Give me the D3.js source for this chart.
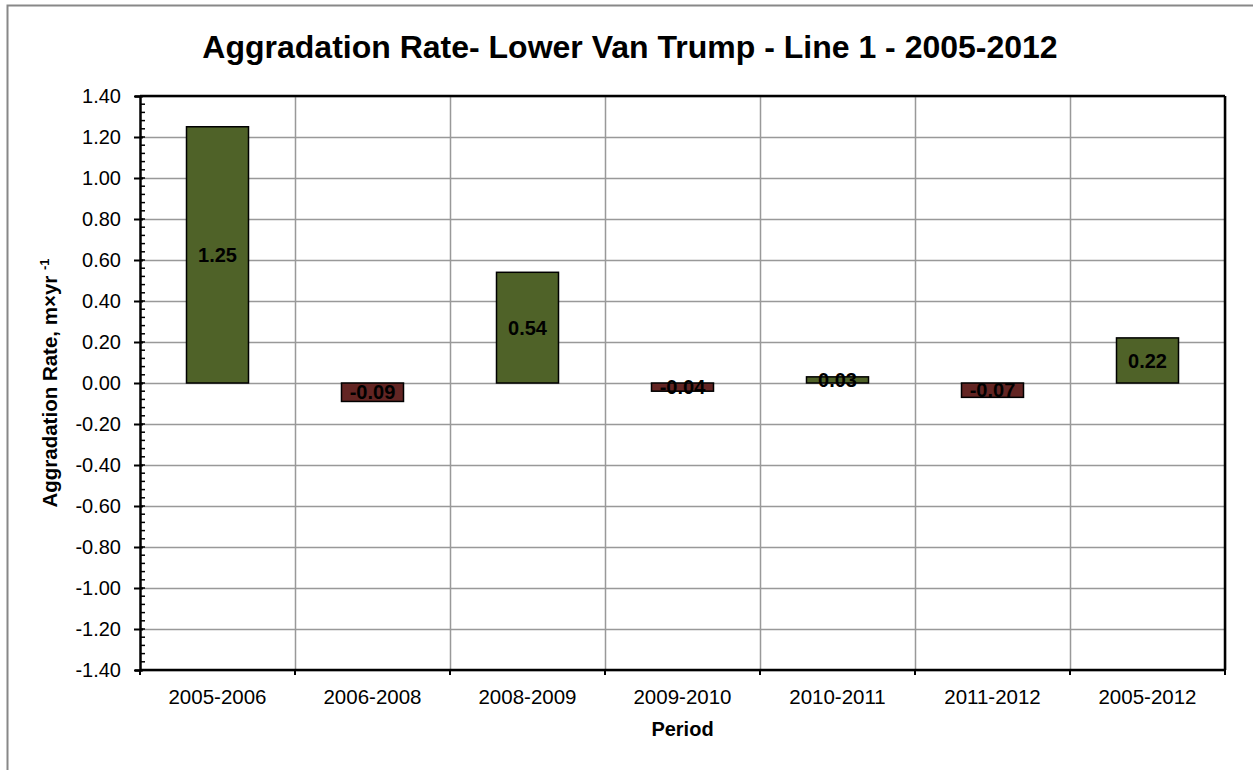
<!DOCTYPE html>
<html>
<head>
<meta charset="utf-8">
<script src="https://cdn.jsdelivr.net/npm/d3@7"></script>
<style>
  body { margin: 0; background: #fff; overflow: hidden; }
  svg { font-family: Arial, "Liberation Sans", sans-serif; }
</style>
</head>
<body>
<div id="chart"></div>
<script>
const periods = ["2005-2006", "2006-2008", "2008-2009", "2009-2010", "2010-2011", "2011-2012", "2005-2012"];
const rates = [1.25, -0.09, 0.54, -0.04, 0.03, -0.07, 0.22];
const yTicks = [1.4, 1.2, 1.0, 0.8, 0.6, 0.4, 0.2, 0, -0.2, -0.4, -0.6, -0.8, -1.0, -1.2, -1.4];

const width = 1253, height = 770;
const margin = {top: 96, right: 28, bottom: 100, left: 140};
const fmt = d => d.toFixed(2);   // plain hyphen for negatives, like the original

const svg = d3.select("#chart").append("svg")
    .attr("width", width)
    .attr("height", height);

// chart frame (right and bottom edges run off the page)
svg.append("rect")
    .attr("x", 7.5).attr("y", 5.5)
    .attr("width", 1260).attr("height", 780)
    .attr("fill", "none")
    .attr("stroke", "#888")
    .attr("stroke-width", 2);

const x = d3.scaleBand()
    .domain(periods)
    .range([margin.left, width - margin.right])
    .paddingInner(0.6)
    .paddingOuter(0.3);

const xEdges = d3.scaleLinear()
    .domain([0, periods.length])
    .range([margin.left, width - margin.right]);

const y = d3.scaleLinear()
    .domain([-1.4, 1.4])
    .range([height - margin.bottom, margin.top]);

// grid
svg.append("g")
    .selectAll("line")
    .data(yTicks)
    .join("line")
    .attr("x1", margin.left).attr("x2", width - margin.right)
    .attr("y1", d => Math.round(y(d)) + 0.5).attr("y2", d => Math.round(y(d)) + 0.5)
    .attr("stroke", "#999")
    .attr("stroke-width", 1.5);

svg.append("g")
    .selectAll("line")
    .data(d3.range(1, periods.length + 1))
    .join("line")
    .attr("x1", d => Math.round(xEdges(d)) + 0.5).attr("x2", d => Math.round(xEdges(d)) + 0.5)
    .attr("y1", y(1.4)).attr("y2", y(-1.4))
    .attr("stroke", "#999")
    .attr("stroke-width", 1.5);

// bars
svg.append("g")
    .selectAll("rect")
    .data(rates)
    .join("rect")
    .attr("x", (d, i) => x(periods[i]))
    .attr("width", x.bandwidth())
    .attr("y", d => y(Math.max(0, d)))
    .attr("height", d => Math.abs(y(d) - y(0)))
    .attr("fill", d => d >= 0 ? "#4f6228" : "#632523")
    .attr("stroke", "#000")
    .attr("stroke-width", 1.5);

// value labels
svg.append("g")
    .selectAll("text")
    .data(rates)
    .join("text")
    .attr("x", (d, i) => x(periods[i]) + x.bandwidth() / 2)
    .attr("y", d => (y(d) + y(0)) / 2)
    .attr("dy", "0.36em")
    .attr("text-anchor", "middle")
    .attr("font-size", 20)
    .attr("font-weight", "bold")
    .attr("fill", "#000")
    .text(fmt);

// y axis
const yAxis = svg.append("g")
    .attr("transform", `translate(${margin.left},0)`);

yAxis.call(d3.axisLeft(y)
        .tickValues(yTicks)
        .tickSize(5)
        .tickFormat(fmt))
    .call(g => g.select(".domain").attr("stroke-width", 2.5))
    .call(g => g.selectAll(".tick line").attr("x2", -6).attr("x1", 3).attr("stroke-width", 2))
    .call(g => g.selectAll(".tick text")
        .attr("x", -19)
        .attr("font-size", 20)
        .attr("font-family", "Arial, 'Liberation Sans', sans-serif")
        .attr("fill", "#000"));

// minor ticks
yAxis.append("g")
    .selectAll("line")
    .data(d3.range(-1.4, 1.4001, 0.04))
    .join("line")
    .attr("x1", 0).attr("x2", 5)
    .attr("y1", d => y(d)).attr("y2", d => y(d))
    .attr("stroke", "#000")
    .attr("stroke-width", 1.5);

// x axis (at bottom)
svg.append("line")
    .attr("x1", margin.left).attr("x2", width - margin.right)
    .attr("y1", y(-1.4)).attr("y2", y(-1.4))
    .attr("stroke", "#000")
    .attr("stroke-width", 2.5);

svg.append("g")
    .selectAll("line")
    .data(d3.range(0, periods.length + 1))
    .join("line")
    .attr("x1", d => xEdges(d)).attr("x2", d => xEdges(d))
    .attr("y1", y(-1.4)).attr("y2", y(-1.4) + 5)
    .attr("stroke", "#000")
    .attr("stroke-width", 2);

svg.append("g")
    .selectAll("text")
    .data(periods)
    .join("text")
    .attr("x", d => x(d) + x.bandwidth() / 2)
    .attr("y", y(-1.4) + 34)
    .attr("text-anchor", "middle")
    .attr("font-size", 20.5)
    .attr("fill", "#000")
    .text(d => d);

// top and right plot border
svg.append("line")
    .attr("x1", margin.left).attr("x2", width - margin.right)
    .attr("y1", y(1.4)).attr("y2", y(1.4))
    .attr("stroke", "#000").attr("stroke-width", 2.5);
svg.append("line")
    .attr("x1", width - margin.right).attr("x2", width - margin.right)
    .attr("y1", y(1.4)).attr("y2", y(-1.4))
    .attr("stroke", "#000").attr("stroke-width", 2.5);

// titles
svg.append("text")
    .attr("x", 630).attr("y", 58)
    .attr("text-anchor", "middle")
    .attr("font-size", 32)
    .attr("font-weight", "bold")
    .text("Aggradation Rate- Lower Van Trump - Line 1 - 2005-2012");

svg.append("text")
    .attr("x", (margin.left + width - margin.right) / 2)
    .attr("y", 736)
    .attr("text-anchor", "middle")
    .attr("font-size", 20)
    .attr("font-weight", "bold")
    .text("Period");

const yTitle = svg.append("text")
    .attr("transform", `translate(57,${y(0)}) rotate(-90)`)
    .attr("text-anchor", "middle")
    .attr("font-size", 20.5)
    .attr("font-weight", "bold");
yTitle.append("tspan").text("Aggradation Rate, m×yr ");
yTitle.append("tspan").attr("dy", -8).attr("font-size", 13).text("-1");
</script>
</body>
</html>
